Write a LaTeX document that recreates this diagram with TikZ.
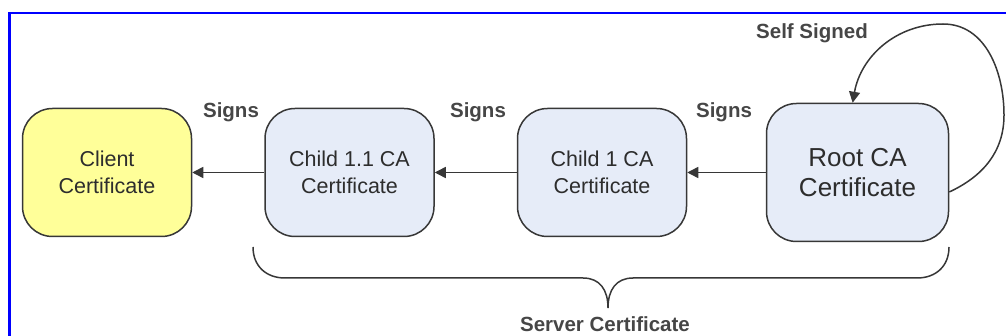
\documentclass[tikz,border=0pt]{standalone}
\usepackage{fontspec}
\setmainfont{Liberation Sans}
\usetikzlibrary{arrows.meta}
\definecolor{frameblue}{RGB}{0,0,255}
\definecolor{edgegray}{RGB}{55,55,55}
\definecolor{textgray}{RGB}{45,45,45}
\definecolor{labelgray}{RGB}{70,70,70}
\definecolor{clientfill}{RGB}{255,255,153}
\definecolor{cafill}{RGB}{230,236,248}
\begin{document}
\begin{tikzpicture}[x=1pt,y=1pt,
  cert/.style={draw=edgegray, line width=1.5pt, rounded corners=30pt,
    minimum width=169pt, minimum height=128pt, align=center, inner sep=0pt,
    text=textgray, font=\fontsize{21.5}{27}\selectfont},
  rootcert/.style={cert, minimum width=182pt, minimum height=138pt,
    font=\fontsize{26}{30}\selectfont},
  lbl/.style={text=labelgray, font=\fontsize{20.5}{24}\selectfont\bfseries, inner sep=0pt},
  signs/.style={draw=edgegray, line width=1.5pt, -{Triangle[length=11pt,width=11pt]}},
  brace/.style={draw=edgegray, line width=1.5pt}
]
\useasboundingbox (0,0) rectangle (1006,-336);

% frame
\draw[frameblue, line width=2.5pt] (9.5,-336) -- (9.5,-13) -- (1006,-13);

% certificates
\node[cert, fill=clientfill] (client) at (107,-172.5) {Client\\Certificate};
\node[cert, fill=cafill] (child11) at (349.5,-172.5) {Child 1.1 CA\\Certificate};
\node[cert, fill=cafill] (child1) at (602,-172.5) {Child 1 CA\\Certificate};
\node[rootcert, fill=cafill] (root) at (857.5,-172.5) {Root CA\\Certificate};

% signing chain
\draw[signs] (child11.west) -- (client.east);
\draw[signs] (child1.west) -- (child11.east);
\draw[signs] (root.west) -- (child1.east);

\node[lbl, anchor=base] (sg1) at (231,-118) {Signs};
\node[lbl, anchor=base] (sg2) at (478,-118) {Signs};
\node[lbl, anchor=base] (sg3) at (724,-118) {Signs};

% self signature loop
\draw[signs] (root.-12.6) to[out=25,in=-90] (1004,-115)
  to[out=90,in=0] (943,-24) to[out=180,in=80] (root.94.5);
\node[lbl, anchor=base] (self) at (812,-39) {Self Signed};

% brace under the server chain
\coordinate (btip) at (608,-308);
\draw[brace] (253,-247) .. controls (253,-266) and (266,-278) .. (285,-278)
  -- (583,-278) .. controls (600,-278) and (608,-290) .. (btip)
  .. controls (608,-290) and (616,-278) .. (633,-278)
  -- (917,-278) .. controls (936,-278) and (949,-266) .. (949,-247);
\node[lbl, anchor=base] (server) at (605,-332) {Server Certificate};
\end{tikzpicture}
\end{document}
